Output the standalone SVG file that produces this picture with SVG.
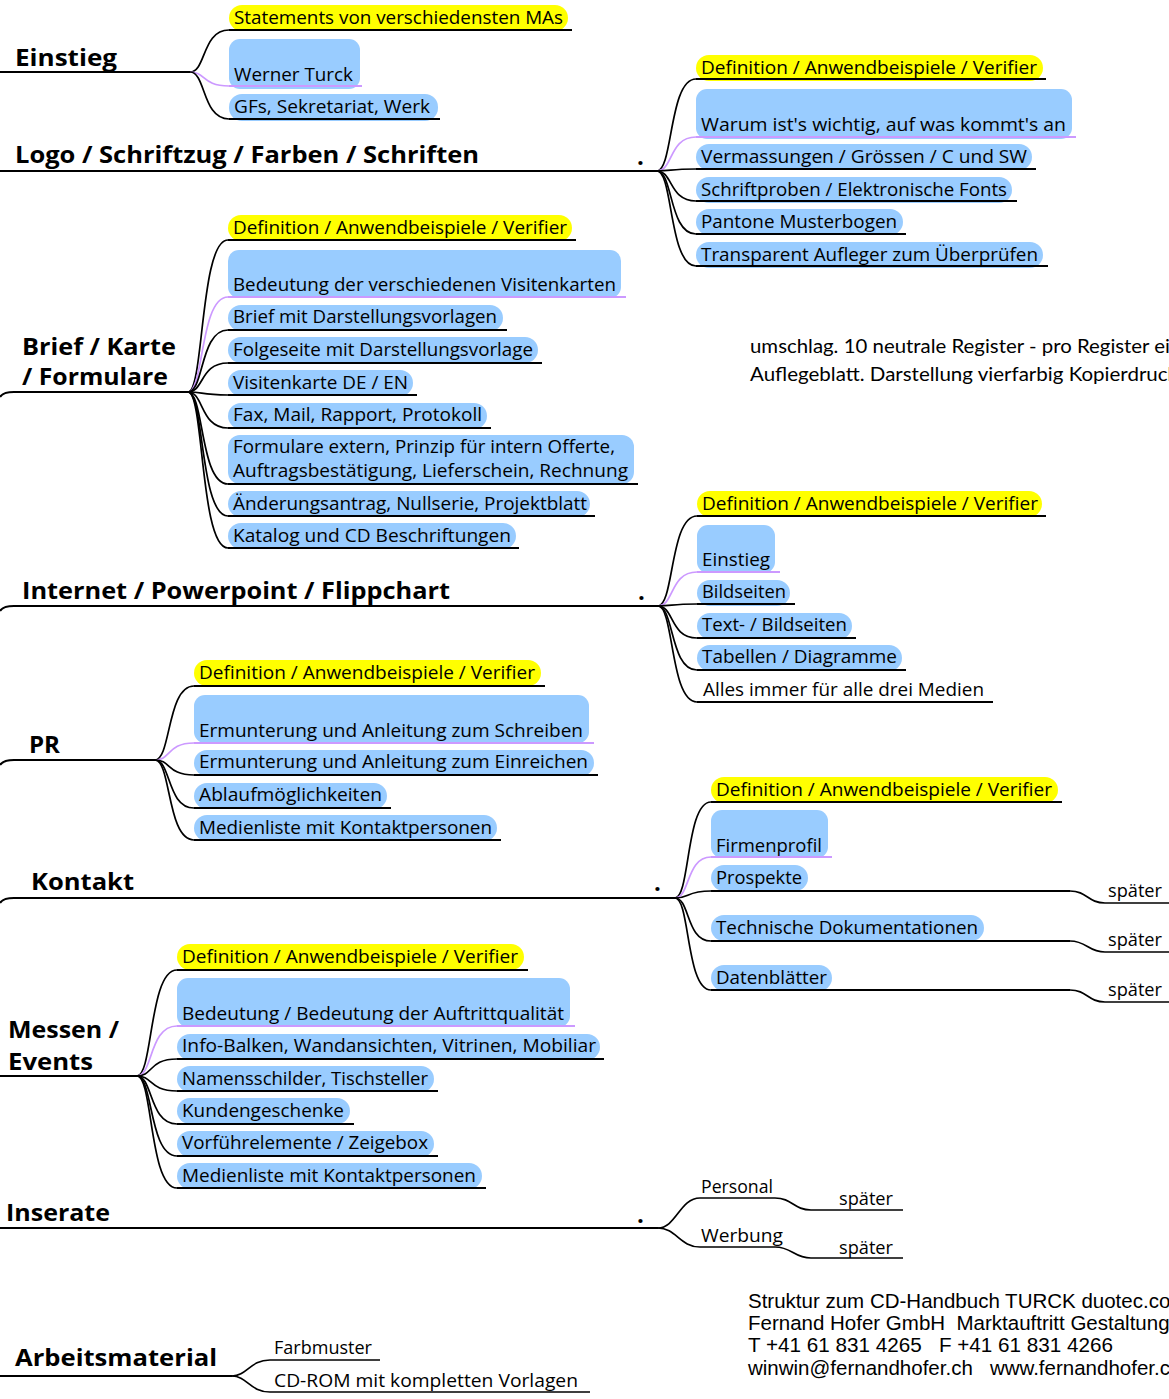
<svg xmlns="http://www.w3.org/2000/svg" width="1169" height="1399" viewBox="0 0 1169 1399">
<style>
.bg{fill:#ffffff}
.pb{fill:#99ccff}
.py{fill:#ffff00}
.ul{stroke:#000;stroke-width:2;fill:none}
.ulp{stroke:#cc99ff;stroke-width:2;fill:none}
.con{stroke:#000;stroke-width:1.7;fill:none}
.conp{stroke:#cc99ff;stroke-width:1.7;fill:none}
.main{stroke:#000;stroke-width:2.2;fill:none}
text{font-family:"Open Sans","Noto Sans","DejaVu Sans",sans-serif;fill:#000}
.t{font-size:18.5px}
.h{font-size:24px;font-weight:bold}
.note{font-family:"Lato","Liberation Sans",sans-serif;font-size:19.5px}
.foot{font-family:"Liberation Sans",Arial,sans-serif;font-size:20.5px;white-space:pre}
.dot{font-size:24px;font-weight:bold}
</style>
<rect class="bg" x="0" y="0" width="1169" height="1399"/>

<g id="connectors">
  <path class="main" d="M0,72 H190"/>
  <path class="main" d="M0,171 H657"/>
  <path class="main" d="M0,397 Q3,392 14,392 H188"/>
  <path class="main" d="M0,611 Q3,606 14,606 H658"/>
  <path class="main" d="M0,765 Q3,760 14,760 H155"/>
  <path class="main" d="M0,903 Q3,898 14,898 H675"/>
  <path class="main" d="M0,1076 H137"/>
  <path class="main" d="M0,1228 H658"/>
  <path class="main" d="M0,1376 H232"/>
  <path class="con" d="M190,72 C206,72 202,30 229,30"/>
  <path class="conp" d="M190,72 C206,72 202,86 229,86"/>
  <path class="con" d="M190,72 C206,72 202,119 229,119"/>
  <path class="con" d="M657,171 C673,171 669,79 696,79"/>
  <path class="conp" d="M657,171 C673,171 669,137 696,137"/>
  <path class="con" d="M657,171 C673,171 669,169 696,169"/>
  <path class="con" d="M657,171 C673,171 669,201 696,201"/>
  <path class="con" d="M657,171 C673,171 669,234 696,234"/>
  <path class="con" d="M657,171 C673,171 669,266 696,266"/>
  <path class="con" d="M188,392 C204,392 200,240 228,240"/>
  <path class="conp" d="M188,392 C204,392 200,297 228,297"/>
  <path class="con" d="M188,392 C204,392 200,330 228,330"/>
  <path class="con" d="M188,392 C204,392 200,363 228,363"/>
  <path class="con" d="M188,392 C204,392 200,395 228,395"/>
  <path class="con" d="M188,392 C204,392 200,428 228,428"/>
  <path class="con" d="M188,392 C204,392 200,484 228,484"/>
  <path class="con" d="M188,392 C204,392 200,516 228,516"/>
  <path class="con" d="M188,392 C204,392 200,548 228,548"/>
  <path class="con" d="M658,606 C674,606 670,516 697,516"/>
  <path class="conp" d="M658,606 C674,606 670,572 697,572"/>
  <path class="con" d="M658,606 C674,606 670,604 697,604"/>
  <path class="con" d="M658,606 C674,606 670,638 697,638"/>
  <path class="con" d="M658,606 C674,606 670,670 697,670"/>
  <path class="con" d="M658,606 C674,606 670,702 697,702"/>
  <path class="con" d="M155,760 C171,760 167,686 194,686"/>
  <path class="conp" d="M155,760 C171,760 167,743 194,743"/>
  <path class="con" d="M155,760 C171,760 167,775 194,775"/>
  <path class="con" d="M155,760 C171,760 167,808 194,808"/>
  <path class="con" d="M155,760 C171,760 167,840 194,840"/>
  <path class="con" d="M675,898 C690,898 686,802 711,802"/>
  <path class="conp" d="M675,898 C690,898 686,857 711,857"/>
  <path class="con" d="M675,898 C690,898 686,891 711,891"/>
  <path class="con" d="M675,898 C690,898 686,941 711,941"/>
  <path class="con" d="M675,898 C690,898 686,990 711,990"/>
  <path class="con" d="M1070,891 C1087,891 1088,903 1105,903 H1169"/>
  <path class="con" d="M1070,941 C1087,941 1088,952 1105,952 H1169"/>
  <path class="con" d="M1070,990 C1087,990 1088,1002 1105,1002 H1169"/>
  <path class="con" d="M137,1076 C153,1076 149,970 177,970"/>
  <path class="conp" d="M137,1076 C153,1076 149,1026 177,1026"/>
  <path class="con" d="M137,1076 C153,1076 149,1059 177,1059"/>
  <path class="con" d="M137,1076 C153,1076 149,1091 177,1091"/>
  <path class="con" d="M137,1076 C153,1076 149,1124 177,1124"/>
  <path class="con" d="M137,1076 C153,1076 149,1156 177,1156"/>
  <path class="con" d="M137,1076 C153,1076 149,1188 177,1188"/>
  <path class="con" d="M658,1228 C676,1228 680,1198 700,1198 H775 C792,1198 794,1210 811,1210 H903"/>
  <path class="con" d="M658,1228 C676,1228 680,1247 700,1247 H775 C792,1247 794,1258 811,1258 H903"/>
  <path class="con" d="M232,1376 C247,1376 250,1360 270,1360 H380"/>
  <path class="con" d="M232,1376 C247,1376 250,1392 270,1392 H590"/>
</g>

<g id="einstieg">
  <text class="h" x="15" y="66" textLength="102" lengthAdjust="spacingAndGlyphs">Einstieg</text>
</g>
<g id="einstieg-statements">
  <rect class="py" x="229" y="5" width="339" height="26" rx="13"/>
  <text class="t" x="234" y="24" textLength="329" lengthAdjust="spacingAndGlyphs">Statements von verschiedensten MAs</text>
  <path class="ul" d="M229,30 H572"/>
</g>
<g id="einstieg-werner">
  <rect class="pb" x="229" y="39" width="131" height="50" rx="11"/>
  <text class="t" x="234" y="81" textLength="119" lengthAdjust="spacingAndGlyphs">Werner Turck</text>
  <path class="ulp" d="M229,86 H362"/>
</g>
<g id="einstieg-gfs">
  <rect class="pb" x="229" y="94" width="209" height="27" rx="13"/>
  <text class="t" x="234" y="113" textLength="196" lengthAdjust="spacingAndGlyphs">GFs, Sekretariat, Werk</text>
  <path class="ul" d="M229,119 H440"/>
</g>

<g id="logo">
  <text class="h" x="15" y="163" textLength="464" lengthAdjust="spacingAndGlyphs">Logo / Schriftzug / Farben / Schriften</text>
  <text class="dot" x="637" y="165">.</text>
</g>
<g id="logo-def">
  <rect class="py" x="696" y="55" width="347" height="26" rx="13"/>
  <text class="t" x="701" y="74" textLength="336" lengthAdjust="spacingAndGlyphs">Definition / Anwendbeispiele / Verifier</text>
  <path class="ul" d="M696,79 H1046"/>
</g>
<g id="logo-warum">
  <rect class="pb" x="696" y="89" width="376" height="50" rx="11"/>
  <text class="t" x="701" y="131" textLength="365" lengthAdjust="spacingAndGlyphs">Warum ist's wichtig, auf was kommt's an</text>
  <path class="ulp" d="M696,137 H1076"/>
</g>
<g id="logo-verm">
  <rect class="pb" x="696" y="144" width="336" height="26" rx="13"/>
  <text class="t" x="701" y="163" textLength="326" lengthAdjust="spacingAndGlyphs">Vermassungen / Grössen / C und SW</text>
  <path class="ul" d="M696,169 H1036"/>
</g>
<g id="logo-schrift">
  <rect class="pb" x="696" y="177" width="316" height="26" rx="13"/>
  <text class="t" x="701" y="196" textLength="306" lengthAdjust="spacingAndGlyphs">Schriftproben / Elektronische Fonts</text>
  <path class="ul" d="M696,201 H1017"/>
</g>
<g id="logo-pantone">
  <rect class="pb" x="696" y="209" width="207" height="26" rx="13"/>
  <text class="t" x="701" y="228" textLength="196" lengthAdjust="spacingAndGlyphs">Pantone Musterbogen</text>
  <path class="ul" d="M696,234 H906"/>
</g>
<g id="logo-transp">
  <rect class="pb" x="696" y="242" width="347" height="26" rx="13"/>
  <text class="t" x="701" y="261" textLength="337" lengthAdjust="spacingAndGlyphs">Transparent Aufleger zum Überprüfen</text>
  <path class="ul" d="M696,266 H1048"/>
</g>

<g id="brief">
  <text class="h" x="22" y="355" textLength="154" lengthAdjust="spacingAndGlyphs">Brief / Karte</text>
  <text class="h" x="22" y="385" textLength="146" lengthAdjust="spacingAndGlyphs">/ Formulare</text>
</g>
<g id="brief-def">
  <rect class="py" x="228" y="215" width="344" height="26" rx="13"/>
  <text class="t" x="233" y="234" textLength="334" lengthAdjust="spacingAndGlyphs">Definition / Anwendbeispiele / Verifier</text>
  <path class="ul" d="M228,240 H576"/>
</g>
<g id="brief-bedeutung">
  <rect class="pb" x="228" y="250" width="393" height="48" rx="11"/>
  <text class="t" x="233" y="291" textLength="383" lengthAdjust="spacingAndGlyphs">Bedeutung der verschiedenen Visitenkarten</text>
  <path class="ulp" d="M228,297 H626"/>
</g>
<g id="brief-brief">
  <rect class="pb" x="228" y="305" width="275" height="26" rx="13"/>
  <text class="t" x="233" y="323" textLength="264" lengthAdjust="spacingAndGlyphs">Brief mit Darstellungsvorlagen</text>
  <path class="ul" d="M228,330 H507"/>
</g>
<g id="brief-folge">
  <rect class="pb" x="228" y="337" width="310" height="26" rx="13"/>
  <text class="t" x="233" y="356" textLength="300" lengthAdjust="spacingAndGlyphs">Folgeseite mit Darstellungsvorlage</text>
  <path class="ul" d="M228,363 H542"/>
</g>
<g id="brief-visit">
  <rect class="pb" x="228" y="370" width="185" height="26" rx="13"/>
  <text class="t" x="233" y="389" textLength="175" lengthAdjust="spacingAndGlyphs">Visitenkarte DE / EN</text>
  <path class="ul" d="M228,395 H417"/>
</g>
<g id="brief-fax">
  <rect class="pb" x="228" y="403" width="259" height="26" rx="13"/>
  <text class="t" x="233" y="421" textLength="249" lengthAdjust="spacingAndGlyphs">Fax, Mail, Rapport, Protokoll</text>
  <path class="ul" d="M228,428 H491"/>
</g>
<g id="brief-formulare">
  <rect class="pb" x="228" y="435" width="406" height="49" rx="12"/>
  <text class="t" x="233" y="453" textLength="382" lengthAdjust="spacingAndGlyphs">Formulare extern, Prinzip für intern Offerte,</text>
  <text class="t" x="233" y="477" textLength="395" lengthAdjust="spacingAndGlyphs">Auftragsbestätigung, Lieferschein, Rechnung</text>
  <path class="ul" d="M228,484 H638"/>
</g>
<g id="brief-aenderung">
  <rect class="pb" x="228" y="491" width="362" height="26" rx="13"/>
  <text class="t" x="233" y="510" textLength="354" lengthAdjust="spacingAndGlyphs">Änderungsantrag, Nullserie, Projektblatt</text>
  <path class="ul" d="M228,516 H595"/>
</g>
<g id="brief-katalog">
  <rect class="pb" x="228" y="523" width="288" height="26" rx="13"/>
  <text class="t" x="233" y="542" textLength="278" lengthAdjust="spacingAndGlyphs">Katalog und CD Beschriftungen</text>
  <path class="ul" d="M228,548 H519"/>
</g>

<g id="note">
  <text class="note" x="750" y="353" textLength="420" lengthAdjust="spacingAndGlyphs">umschlag. 10 neutrale Register - pro Register ei</text>
  <text class="note" x="750" y="381" textLength="428" lengthAdjust="spacingAndGlyphs">Auflegeblatt. Darstellung vierfarbig Kopierdruck</text>
</g>

<g id="internet">
  <text class="h" x="22" y="599" textLength="428" lengthAdjust="spacingAndGlyphs">Internet / Powerpoint / Flippchart</text>
  <text class="dot" x="638" y="600">.</text>
</g>
<g id="internet-def">
  <rect class="py" x="697" y="491" width="345" height="26" rx="13"/>
  <text class="t" x="702" y="510" textLength="336" lengthAdjust="spacingAndGlyphs">Definition / Anwendbeispiele / Verifier</text>
  <path class="ul" d="M697,516 H1046"/>
</g>
<g id="internet-einstieg">
  <rect class="pb" x="697" y="525" width="78" height="48" rx="11"/>
  <text class="t" x="702" y="566" textLength="68" lengthAdjust="spacingAndGlyphs">Einstieg</text>
  <path class="ulp" d="M697,572 H780"/>
</g>
<g id="internet-bild">
  <rect class="pb" x="697" y="580" width="93" height="26" rx="13"/>
  <text class="t" x="702" y="598" textLength="84" lengthAdjust="spacingAndGlyphs">Bildseiten</text>
  <path class="ul" d="M697,604 H795"/>
</g>
<g id="internet-text">
  <rect class="pb" x="697" y="613" width="155" height="26" rx="13"/>
  <text class="t" x="702" y="631" textLength="145" lengthAdjust="spacingAndGlyphs">Text- / Bildseiten</text>
  <path class="ul" d="M697,638 H856"/>
</g>
<g id="internet-tabellen">
  <rect class="pb" x="697" y="645" width="205" height="26" rx="13"/>
  <text class="t" x="702" y="663" textLength="195" lengthAdjust="spacingAndGlyphs">Tabellen / Diagramme</text>
  <path class="ul" d="M697,670 H906"/>
</g>
<g id="internet-alles">
  <text class="t" x="703" y="696" textLength="281" lengthAdjust="spacingAndGlyphs">Alles immer für alle drei Medien</text>
  <path class="ul" d="M697,702 H993"/>
</g>

<g id="pr">
  <text class="h" x="29" y="753" textLength="31" lengthAdjust="spacingAndGlyphs">PR</text>
</g>
<g id="pr-def">
  <rect class="py" x="194" y="660" width="347" height="26" rx="13"/>
  <text class="t" x="199" y="679" textLength="336" lengthAdjust="spacingAndGlyphs">Definition / Anwendbeispiele / Verifier</text>
  <path class="ul" d="M194,686 H545"/>
</g>
<g id="pr-schreiben">
  <rect class="pb" x="194" y="695" width="395" height="48" rx="11"/>
  <text class="t" x="199" y="737" textLength="384" lengthAdjust="spacingAndGlyphs">Ermunterung und Anleitung zum Schreiben</text>
  <path class="ulp" d="M194,743 H594"/>
</g>
<g id="pr-einreichen">
  <rect class="pb" x="194" y="750" width="400" height="26" rx="13"/>
  <text class="t" x="199" y="768" textLength="389" lengthAdjust="spacingAndGlyphs">Ermunterung und Anleitung zum Einreichen</text>
  <path class="ul" d="M194,775 H598"/>
</g>
<g id="pr-ablauf">
  <rect class="pb" x="194" y="783" width="193" height="26" rx="13"/>
  <text class="t" x="199" y="801" textLength="183" lengthAdjust="spacingAndGlyphs">Ablaufmöglichkeiten</text>
  <path class="ul" d="M194,808 H391"/>
</g>
<g id="pr-medien">
  <rect class="pb" x="194" y="815" width="303" height="26" rx="13"/>
  <text class="t" x="199" y="834" textLength="293" lengthAdjust="spacingAndGlyphs">Medienliste mit Kontaktpersonen</text>
  <path class="ul" d="M194,840 H501"/>
</g>

<g id="kontakt">
  <text class="h" x="31" y="890" textLength="103" lengthAdjust="spacingAndGlyphs">Kontakt</text>
  <text class="dot" x="654" y="891">.</text>
</g>
<g id="kontakt-def">
  <rect class="py" x="711" y="777" width="347" height="26" rx="13"/>
  <text class="t" x="716" y="796" textLength="336" lengthAdjust="spacingAndGlyphs">Definition / Anwendbeispiele / Verifier</text>
  <path class="ul" d="M711,802 H1062"/>
</g>
<g id="kontakt-firmenprofil">
  <rect class="pb" x="711" y="810" width="117" height="48" rx="11"/>
  <text class="t" x="716" y="852" textLength="106" lengthAdjust="spacingAndGlyphs">Firmenprofil</text>
  <path class="ulp" d="M711,857 H832"/>
</g>
<g id="kontakt-prospekte">
  <rect class="pb" x="711" y="865" width="97" height="26" rx="13"/>
  <text class="t" x="716" y="884" textLength="86" lengthAdjust="spacingAndGlyphs">Prospekte</text>
  <path class="ul" d="M711,891 H1070"/>
</g>
<g id="kontakt-prospekte-spaeter">
  <text class="t" x="1108" y="897" textLength="54" lengthAdjust="spacingAndGlyphs">später</text>
</g>
<g id="kontakt-technisch">
  <rect class="pb" x="711" y="915" width="273" height="26" rx="13"/>
  <text class="t" x="716" y="934" textLength="262" lengthAdjust="spacingAndGlyphs">Technische Dokumentationen</text>
  <path class="ul" d="M711,941 H1070"/>
</g>
<g id="kontakt-technisch-spaeter">
  <text class="t" x="1108" y="946" textLength="54" lengthAdjust="spacingAndGlyphs">später</text>
</g>
<g id="kontakt-daten">
  <rect class="pb" x="711" y="965" width="121" height="26" rx="13"/>
  <text class="t" x="716" y="984" textLength="111" lengthAdjust="spacingAndGlyphs">Datenblätter</text>
  <path class="ul" d="M711,990 H1070"/>
</g>
<g id="kontakt-daten-spaeter">
  <text class="t" x="1108" y="996" textLength="54" lengthAdjust="spacingAndGlyphs">später</text>
</g>

<g id="messen">
  <text class="h" x="8" y="1038" textLength="111" lengthAdjust="spacingAndGlyphs">Messen /</text>
  <text class="h" x="8" y="1070" textLength="85" lengthAdjust="spacingAndGlyphs">Events</text>
</g>
<g id="messen-def">
  <rect class="py" x="177" y="944" width="347" height="26" rx="13"/>
  <text class="t" x="182" y="963" textLength="336" lengthAdjust="spacingAndGlyphs">Definition / Anwendbeispiele / Verifier</text>
  <path class="ul" d="M177,970 H528"/>
</g>
<g id="messen-bedeutung">
  <rect class="pb" x="177" y="978" width="393" height="49" rx="11"/>
  <text class="t" x="182" y="1020" textLength="382" lengthAdjust="spacingAndGlyphs">Bedeutung / Bedeutung der Auftrittqualität</text>
  <path class="ulp" d="M177,1026 H575"/>
</g>
<g id="messen-info">
  <rect class="pb" x="177" y="1034" width="423" height="26" rx="13"/>
  <text class="t" x="182" y="1052" textLength="414" lengthAdjust="spacingAndGlyphs">Info-Balken, Wandansichten, Vitrinen, Mobiliar</text>
  <path class="ul" d="M177,1059 H604"/>
</g>
<g id="messen-namen">
  <rect class="pb" x="177" y="1066" width="257" height="26" rx="13"/>
  <text class="t" x="182" y="1085" textLength="246" lengthAdjust="spacingAndGlyphs">Namensschilder, Tischsteller</text>
  <path class="ul" d="M177,1091 H438"/>
</g>
<g id="messen-kunden">
  <rect class="pb" x="177" y="1098" width="173" height="26" rx="13"/>
  <text class="t" x="182" y="1117" textLength="162" lengthAdjust="spacingAndGlyphs">Kundengeschenke</text>
  <path class="ul" d="M177,1124 H354"/>
</g>
<g id="messen-vorfuehr">
  <rect class="pb" x="177" y="1131" width="257" height="26" rx="13"/>
  <text class="t" x="182" y="1149" textLength="246" lengthAdjust="spacingAndGlyphs">Vorführelemente / Zeigebox</text>
  <path class="ul" d="M177,1156 H438"/>
</g>
<g id="messen-medien">
  <rect class="pb" x="177" y="1163" width="305" height="26" rx="13"/>
  <text class="t" x="182" y="1182" textLength="294" lengthAdjust="spacingAndGlyphs">Medienliste mit Kontaktpersonen</text>
  <path class="ul" d="M177,1188 H486"/>
</g>

<g id="inserate">
  <text class="h" x="6" y="1221" textLength="104" lengthAdjust="spacingAndGlyphs">Inserate</text>
  <text class="dot" x="637" y="1223">.</text>
</g>
<g id="inserate-personal">
  <text class="t" x="701" y="1193" textLength="72" lengthAdjust="spacingAndGlyphs">Personal</text>
</g>
<g id="inserate-personal-spaeter">
  <text class="t" x="839" y="1205" textLength="54" lengthAdjust="spacingAndGlyphs">später</text>
</g>
<g id="inserate-werbung">
  <text class="t" x="701" y="1242" textLength="82" lengthAdjust="spacingAndGlyphs">Werbung</text>
</g>
<g id="inserate-werbung-spaeter">
  <text class="t" x="839" y="1254" textLength="54" lengthAdjust="spacingAndGlyphs">später</text>
</g>

<g id="arbeitsmaterial">
  <text class="h" x="15" y="1366" textLength="202" lengthAdjust="spacingAndGlyphs">Arbeitsmaterial</text>
</g>
<g id="arbeitsmaterial-farbmuster">
  <text class="t" x="274" y="1354" textLength="98" lengthAdjust="spacingAndGlyphs">Farbmuster</text>
</g>
<g id="arbeitsmaterial-cdrom">
  <text class="t" x="274" y="1387" textLength="304" lengthAdjust="spacingAndGlyphs">CD-ROM mit kompletten Vorlagen</text>
</g>

<g id="footer">
  <text class="foot" x="748" y="1308">Struktur zum CD-Handbuch TURCK duotec.com</text>
  <text class="foot" x="748" y="1330">Fernand Hofer GmbH  Marktauftritt Gestaltung</text>
  <text class="foot" x="748" y="1352" textLength="365" lengthAdjust="spacingAndGlyphs">T +41 61 831 4265   F +41 61 831 4266</text>
  <text class="foot" x="748" y="1375">winwin@fernandhofer.ch   www.fernandhofer.ch</text>
</g>
</svg>
